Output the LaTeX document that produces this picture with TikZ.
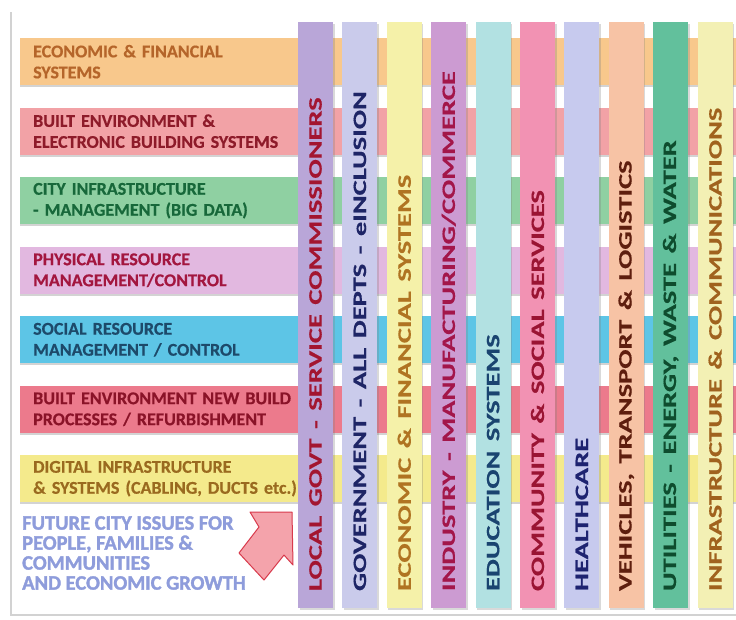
\documentclass[tikz,border=0pt]{standalone}
\usepackage{fontspec}
\setmainfont{Carlito}[BoldFeatures={FakeBold=0.5}]
\newfontfamily\issuefont[FakeBold=1.6]{Carlito}
\usepackage{graphicx}
\usepackage{tikz}
\usetikzlibrary{shadows}
\definecolor{hOrange}{HTML}{F8C88C}\definecolor{tOrange}{HTML}{B5652A}
\definecolor{hPink}{HTML}{F2A2A6}\definecolor{tPink}{HTML}{8E1B2A}
\definecolor{hGreen}{HTML}{8FD0A2}\definecolor{tGreen}{HTML}{17683A}
\definecolor{hLilac}{HTML}{E2B8E0}\definecolor{tLilac}{HTML}{A3163F}
\definecolor{hBlue}{HTML}{5DC5E6}\definecolor{tBlue}{HTML}{1D4A6A}
\definecolor{hRed}{HTML}{EC7A8C}\definecolor{tRed}{HTML}{8A1328}
\definecolor{hYellow}{HTML}{F4EA8C}\definecolor{tYellow}{HTML}{9A6A1F}
\definecolor{vPurple}{HTML}{B9A6D8}\definecolor{uPurple}{HTML}{A31530}
\definecolor{vLavender}{HTML}{CACBEB}\definecolor{uLavender}{HTML}{1E2566}
\definecolor{vCream}{HTML}{F5F1A9}\definecolor{uCream}{HTML}{B07422}
\definecolor{vMauve}{HTML}{CC9BD2}\definecolor{uMauve}{HTML}{A3164A}
\definecolor{vCyan}{HTML}{B2E1E2}\definecolor{uCyan}{HTML}{1A4470}
\definecolor{vRose}{HTML}{F292B3}\definecolor{uRose}{HTML}{9A1433}
\definecolor{vPeri}{HTML}{C7CAEE}\definecolor{uPeri}{HTML}{1E2370}
\definecolor{vPeach}{HTML}{F7C3A5}\definecolor{uPeach}{HTML}{5E1E0E}
\definecolor{vTeal}{HTML}{62C09C}\definecolor{uTeal}{HTML}{0E4C2E}
\definecolor{vLemon}{HTML}{F3F0B4}\definecolor{uLemon}{HTML}{A0621E}
\definecolor{issueblue}{HTML}{8E9CDB}
\definecolor{arrowpink}{HTML}{F4A3AB}
\definecolor{arrowred}{HTML}{D83A4C}

\begin{document}
\begin{tikzpicture}[x=1pt,y=-1pt,
hbar/.style 2 args={rectangle,fill=#1,text=#2,minimum width=716pt,minimum height=47pt,text width=690pt,inner xsep=13pt,inner ysep=0pt,align=left,anchor=north west,font=\fontsize{18}{21}\selectfont\bfseries,drop shadow={shadow xshift=0pt,shadow yshift=-2pt,opacity=0.35}},
vbar/.style 2 args={rectangle,fill=#1,text=#2,rotate=90,minimum width=586pt,minimum height=35pt,text width=552pt,inner xsep=17pt,inner ysep=0pt,align=left,font=\fontsize{19}{19}\selectfont\bfseries,drop shadow={shadow xshift=1.5pt,shadow yshift=-1.5pt,opacity=0.3}},
issue/.style={anchor=north west,text=issueblue,align=left,inner sep=0pt,font=\fontsize{20.5}{20}\selectfont\issuefont\bfseries},
frame/.style={draw=gray!35,line width=2pt}]
\useasboundingbox (0,0) rectangle (736,619);
\draw[frame] (11,12) -- (11,615) -- (736,615);
\foreach \i/\c/\1 in %
{1/Orange/{ECONOMIC \& FINANCIAL\\SYSTEMS},
 2/Pink/{BUILT ENVIRONMENT \&\\ELECTRONIC BUILDING SYSTEMS},
 3/Green/{CITY INFRASTRUCTURE\\- MANAGEMENT (BIG DATA)},
 4/Lilac/{PHYSICAL RESOURCE\\MANAGEMENT/CONTROL},
 5/Blue/{SOCIAL RESOURCE\\MANAGEMENT / CONTROL},
 6/Red/{BUILT ENVIRONMENT NEW BUILD\\PROCESSES / REFURBISHMENT},
 7/Yellow/{DIGITAL INFRASTRUCTURE\\\& SYSTEMS (CABLING, DUCTS etc.)}} {
   \node[hbar={h\c}{t\c}] (h\i) at (20,{38+69.5*(\i-1)}) {\1};
}
\foreach \i/\c/\1 in %
{1/Purple/{LOCAL GOVT - SERVICE COMMISSIONERS},
 2/Lavender/{GOVERNMENT - ALL DEPTS - eINCLUSION},
 3/Cream/{ECONOMIC \& FINANCIAL SYSTEMS},
 4/Mauve/{INDUSTRY - MANUFACTURING/COMMERCE},
 5/Cyan/{EDUCATION SYSTEMS},
 6/Rose/{COMMUNITY \& SOCIAL SERVICES},
 7/Peri/{HEALTHCARE},
 8/Peach/{VEHICLES, TRANSPORT \& LOGISTICS},
 9/Teal/{UTILITIES - ENERGY, WASTE \& WATER},
 10/Lemon/{INFRASTRUCTURE \& COMMUNICATIONS}} {
   \node[vbar={v\c}{u\c}] (v\i) at ({315.5+44.4*(\i-1)},315) {\scalebox{1.5}[1]{\1}};
}
\node[issue] (issues) at (22,516) {FUTURE CITY ISSUES FOR\\PEOPLE, FAMILIES \&\\COMMUNITIES\\AND ECONOMIC GROWTH};
\draw[fill=arrowpink,draw=arrowred,line width=1pt,line join=round] (250,512) -- (292,512) -- (293,565) -- (284,555) -- (264,580) -- (239,553) -- (259,527) -- cycle;
\end{tikzpicture}
\end{document}
